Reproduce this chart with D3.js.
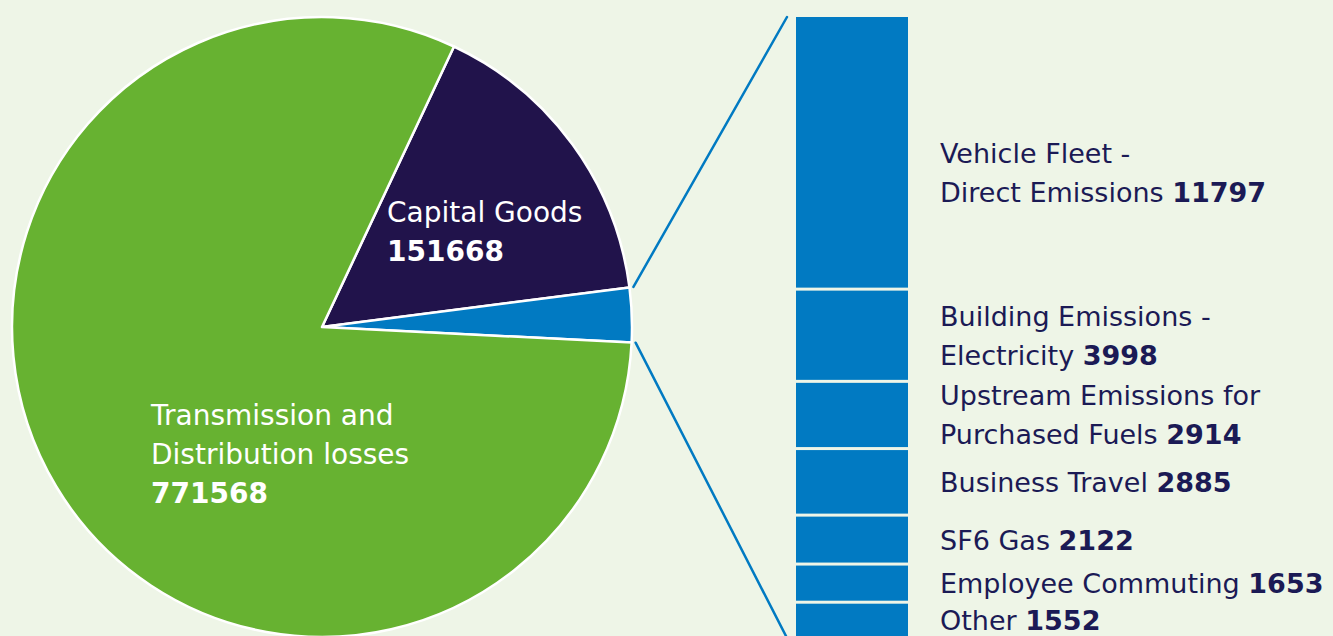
<!DOCTYPE html>
<html>
<head>
  <meta charset="utf-8">
  <script src="https://d3js.org/d3.v7.min.js"></script>
  <style>
    html, body { margin: 0; padding: 0; background: #eef5e7; overflow: hidden; }
    svg { display: block; font-family: "DejaVu Sans", sans-serif; }
  </style>
</head>
<body>
  <script>
    // main pie
    var pieNames = ["Capital Goods", "Other", "Transmission and Distribution losses"];
    var pieValues = [151668, 26921, 771568];
    var pieColors = ["#21134b", "#017ac2", "#67b231"];

    // breakdown of the small slice
    var barNames = [
      ["Vehicle Fleet -", "Direct Emissions"],
      ["Building Emissions -", "Electricity"],
      ["Upstream Emissions for", "Purchased Fuels"],
      ["Business Travel"],
      ["SF6 Gas"],
      ["Employee Commuting"],
      ["Other"]
    ];
    var barValues = [11797, 3998, 2914, 2885, 2122, 1653, 1552];

    var w = 1333, h = 636;
    var svg = d3.select("body").append("svg").attr("width", w).attr("height", h);

    var cx = 322, cy = 327, r = 310;
    var navy = "#1b1a55";

    /* the blue slice sits just right of 3 o'clock, so start the pie a bit before */
    var otherFrac = pieValues[1] / d3.sum(pieValues);
    var capFrac = pieValues[0] / d3.sum(pieValues);
    var start = Math.PI / 2 + 0.05 - (capFrac + otherFrac) * 2 * Math.PI;
    var pie = d3.pie().sort(null).startAngle(start).endAngle(start + 2 * Math.PI);
    var arcs = pie(pieValues);
    var arc = d3.arc().innerRadius(0).outerRadius(r);

    var g = svg.append("g").attr("transform", "translate(" + cx + "," + cy + ")");
    g.selectAll("path").data(arcs).enter().append("path")
      .attr("d", arc)
      .attr("fill", function(d, i) { return pieColors[i]; })
      .attr("stroke", "#fff").attr("stroke-width", 2.5).attr("stroke-linejoin", "round");

    // pie labels
    function multiLine(sel, lines, bold) {
      lines.forEach(function(t, i) {
        sel.append("tspan").attr("x", sel.attr("x")).attr("dy", i == 0 ? 0 : 39)
          .attr("font-weight", bold && i == lines.length - 1 ? "bold" : "normal").text(t);
      });
    }
    var t1 = svg.append("text").attr("x", 387).attr("y", 222).attr("fill", "#fff").attr("font-size", 28);
    multiLine(t1, ["Capital Goods", d3.format("d")(pieValues[0])], true);
    var t2 = svg.append("text").attr("x", 151).attr("y", 425).attr("fill", "#fff").attr("font-size", 28);
    multiLine(t2, ["Transmission and", "Distribution losses", d3.format("d")(pieValues[2])], true);

    // stacked bar
    var barX = 796, barW = 112, barTop = 17, barBottom = 638;
    var y = d3.scaleLinear().domain([0, d3.sum(barValues)]).range([barTop, barBottom]);
    var cum = d3.cumsum(barValues);
    var segs = barValues.map(function(v, i) { return {v: v, y0: cum[i] - v, y1: cum[i], name: barNames[i]}; });

    svg.selectAll("rect.seg").data(segs).enter().append("rect").attr("class", "seg")
      .attr("x", barX).attr("width", barW)
      .attr("y", function(d) { return y(d.y0) + (d.y0 > 0 ? 1.5 : 0); })
      .attr("height", function(d) { return y(d.y1) - y(d.y0) - (d.y0 > 0 ? 1.5 : 0) - 1.5; })
      .attr("fill", "#017ac2");

    // connector lines from the blue slice to the bar
    var a0 = arcs[1].startAngle, a1 = arcs[1].endAngle, rr = r + 4;
    var lines = [
      [cx + rr * Math.sin(a0), cy - rr * Math.cos(a0), barX - 9, barTop],
      [cx + rr * Math.sin(a1), cy - rr * Math.cos(a1), barX - 9, barBottom]
    ];
    svg.selectAll("line.conn").data(lines).enter().append("line").attr("class", "conn")
      .attr("x1", function(d) { return d[0]; }).attr("y1", function(d) { return d[1]; })
      .attr("x2", function(d) { return d[2]; }).attr("y2", function(d) { return d[3]; })
      .attr("stroke", "#017ac2").attr("stroke-width", 2.5).attr("stroke-linecap", "round");

    // bar labels
    segs.forEach(function(d, i) {
      var mid = (y(d.y0) + y(d.y1)) / 2;
      var n = d.name.length;
      if (i == 0) mid += 19;
      var top = mid - (n - 1) * 39 / 2 + 10;
      var txt = svg.append("text").attr("x", 940).attr("y", top).attr("fill", navy).attr("font-size", 27);
      d.name.forEach(function(line, k) {
        txt.append("tspan").attr("x", 940).attr("dy", k == 0 ? 0 : 39).text(line);
        if (k == n - 1) {
          txt.append("tspan").text(" ");
          txt.append("tspan").attr("font-weight", "bold").text(d.v);
        }
      });
    });
  </script>
</body>
</html>
